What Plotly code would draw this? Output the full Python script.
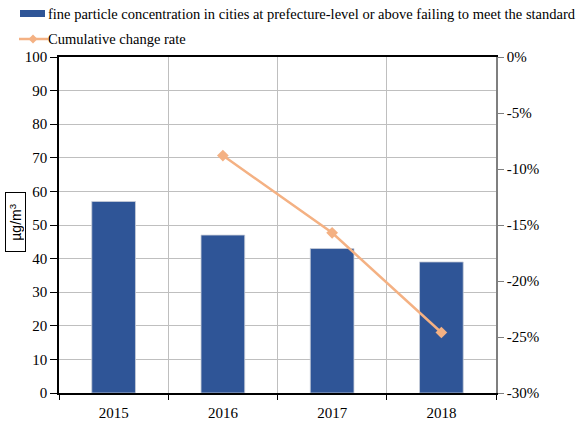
import plotly.graph_objects as go

# Data
years = ["2015", "2016", "2017", "2018"]
pm25 = [57, 47, 43, 39]                      # µg/m³
change_years = ["2016", "2017", "2018"]
cumulative_change = [-8.8, -15.7, -24.6]      # %
left_ticks = [0, 10, 20, 30, 40, 50, 60, 70, 80, 90, 100]
right_ticks = [0, -5, -10, -15, -20, -25, -30]
right_tick_text = ["0%", "-5%", "-10%", "-15%", "-20%", "-25%", "-30%"]

bar_name = ("fine particle concentration in cities at prefecture-level "
            "or above failing to meet the standard")
line_name = "Cumulative change rate"

BAR_COLOR = "#2F5597"
LINE_COLOR = "#F4B183"
GRID = "#BFBFBF"
SERIF = "Liberation Serif"

W, H = 576, 421
ML, MR, MT, MB = 59, 80, 57, 28
PW, PH = W - ML - MR, H - MT - MB


def px(xp):
    return (xp - ML) / PW


def py(yp):
    return (H - MB - yp) / PH


fig = go.Figure()
fig.add_trace(go.Bar(
    x=years, y=pm25, name=bar_name, width=0.4,
    marker=dict(color=BAR_COLOR, line=dict(color="#C9CED8", width=0.8)),
    showlegend=False,
))
fig.add_trace(go.Scatter(
    x=change_years, y=cumulative_change, name=line_name, yaxis="y2",
    mode="lines+markers",
    line=dict(color=LINE_COLOR, width=2.5),
    marker=dict(symbol="diamond", size=9, color=LINE_COLOR),
    showlegend=False,
))

# Hand-drawn legend block above the plot
shapes = [
    dict(type="rect", xref="paper", yref="paper",
         x0=px(20), x1=px(45), y0=py(17), y1=py(10),
         fillcolor=BAR_COLOR, line=dict(width=0)),
    dict(type="line", xref="paper", yref="paper",
         x0=px(19), x1=px(48), y0=py(39), y1=py(39),
         line=dict(color=LINE_COLOR, width=2.5)),
    dict(type="path", xref="paper", yref="paper",
         path=(f"M {px(33)} {py(34.5)} L {px(37.5)} {py(39)} "
               f"L {px(33)} {py(43.5)} L {px(28.5)} {py(39)} Z"),
         fillcolor=LINE_COLOR, line=dict(width=0)),
]
annotations = [
    dict(text=bar_name, xref="paper", yref="paper", x=px(46), y=py(14),
         xanchor="left", yanchor="middle", showarrow=False,
         font=dict(family=SERIF, size=14.5, color="black")),
    dict(text=line_name, xref="paper", yref="paper", x=px(46), y=py(39),
         xanchor="left", yanchor="middle", showarrow=False,
         font=dict(family=SERIF, size=14.5, color="black")),
    dict(text="µg/m<sup>3</sup>", xref="paper", yref="paper",
         x=px(15), y=py(222), xanchor="center", yanchor="middle",
         textangle=-90, showarrow=False, bordercolor="black", borderwidth=1,
         width=56, height=17, borderpad=1,
         font=dict(family="Liberation Sans", size=14, color="black")),
]

fig.update_layout(
    width=W, height=H,
    margin=dict(l=ML, r=MR, t=MT, b=MB),
    paper_bgcolor="white", plot_bgcolor="white",
    font=dict(family=SERIF, size=15, color="black"),
    bargap=0.6,
    shapes=shapes, annotations=annotations,
    xaxis=dict(
        type="category", tickson="boundaries", automargin=False,
        showgrid=True, gridcolor=GRID, gridwidth=1,
        showline=True, linecolor="black", linewidth=1.5, mirror=True,
        ticks="outside", ticklen=5, tickcolor="black",
        ticklabelstandoff=5,
        tickfont=dict(family=SERIF, size=15),
    ),
    yaxis=dict(
        range=[0, 100], tickvals=left_ticks, automargin=False,
        showgrid=True, gridcolor=GRID, gridwidth=1,
        showline=True, linecolor="black", linewidth=1.5,
        ticks="outside", ticklen=7, tickcolor="black",
        tickfont=dict(family=SERIF, size=15), zeroline=False,
    ),
    yaxis2=dict(
        overlaying="y", side="right", range=[-30, 0], automargin=False,
        tickvals=right_ticks, ticktext=right_tick_text,
        showgrid=False, zeroline=False,
        showline=True, linecolor="#7F7F7F", linewidth=1.5,
        ticks="outside", ticklen=6, tickcolor="#7F7F7F",
        tickfont=dict(family=SERIF, size=15),
    ),
)

fig.write_html("out.html")
